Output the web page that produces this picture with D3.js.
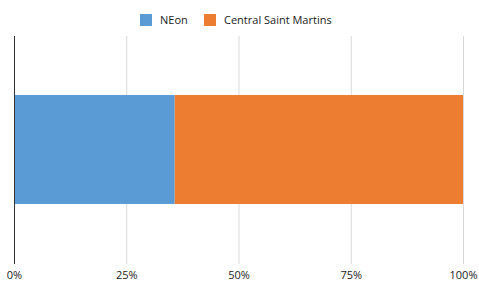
<!DOCTYPE html>
<html>
<head>
<meta charset="utf-8">
<script src="https://cdn.jsdelivr.net/npm/d3@7"></script>
<style>
  body { margin: 0; background: #fff; }
  svg text { font-family: "Open Sans", sans-serif; font-size: 11px; fill: #222; }
</style>
</head>
<body>
<svg id="chart" width="479" height="296"></svg>
<script>
let seriesNames = ["NEon", "Central Saint Martins"];
let seriesValues = [35.8, 64.2];
let seriesColors = ["#5b9bd5", "#ed7d31"];
let tickValues = [0, 0.25, 0.5, 0.75, 1];

let svg = d3.select("#chart");
let margin = { left: 14, right: 16, top: 36, bottom: 33 };
let width = 479, height = 296;

let total = d3.sum(seriesValues);
let stacked = [];
let acc = 0;
for (let i = 0; i < seriesValues.length; i++) {
    stacked.push({ name: seriesNames[i], x0: acc / total, x1: (acc + seriesValues[i]) / total, color: seriesColors[i] });
    acc += seriesValues[i];
}

let xScale = d3.scaleLinear()
    .domain([0, 1])
    .range([margin.left, width - margin.right]);

let yScale = d3.scaleBand()
    .domain(["row"])
    .range([margin.top, height - margin.bottom])
    .paddingInner(0.52)
    .paddingOuter(0.26);

// grid lines
svg.append("g")
    .selectAll("line")
    .data(tickValues.slice(1))
    .enter()
    .append("line")
    .attr("x1", (d) => xScale(d) + 0.5)
    .attr("x2", (d) => xScale(d) + 0.5)
    .attr("y1", margin.top)
    .attr("y2", height - margin.bottom + 1)
    .attr("stroke", "#d9d9d9");

// bars
svg.append("g")
    .selectAll("rect")
    .data(stacked)
    .enter()
    .append("rect")
    .attr("x", (d) => xScale(d.x0))
    .attr("width", (d) => xScale(d.x1) - xScale(d.x0))
    .attr("y", yScale("row"))
    .attr("height", yScale.bandwidth())
    .attr("fill", (d) => d.color);

// y axis line
svg.append("line")
    .attr("x1", margin.left + 0.5)
    .attr("x2", margin.left + 0.5)
    .attr("y1", margin.top)
    .attr("y2", height - margin.bottom + 1)
    .attr("stroke", "#333");

// x axis labels
let xAxis = d3.axisBottom(xScale)
    .tickValues(tickValues)
    .tickFormat(d3.format(".0%"))
    .tickSize(0)
    .tickPadding(6);
let xg = svg.append("g")
    .attr("transform", `translate(0, ${height - margin.bottom + 2})`)
    .call(xAxis);
xg.select(".domain").remove();
xg.selectAll("text").attr("font-size", 11).attr("font-family", "'Open Sans', sans-serif").attr("fill", "#222");

// legend
let legendItems = [
    { name: seriesNames[0], color: seriesColors[0], x: 140 },
    { name: seriesNames[1], color: seriesColors[1], x: 204 }
];
let legend = svg.append("g").selectAll("g")
    .data(legendItems)
    .enter()
    .append("g")
    .attr("transform", (d) => `translate(${d.x}, 14)`);
legend.append("rect")
    .attr("width", 12)
    .attr("height", 12)
    .attr("fill", (d) => d.color);
legend.append("text")
    .attr("x", 20)
    .attr("y", 10)
    .text((d) => d.name);
</script>
</body>
</html>
